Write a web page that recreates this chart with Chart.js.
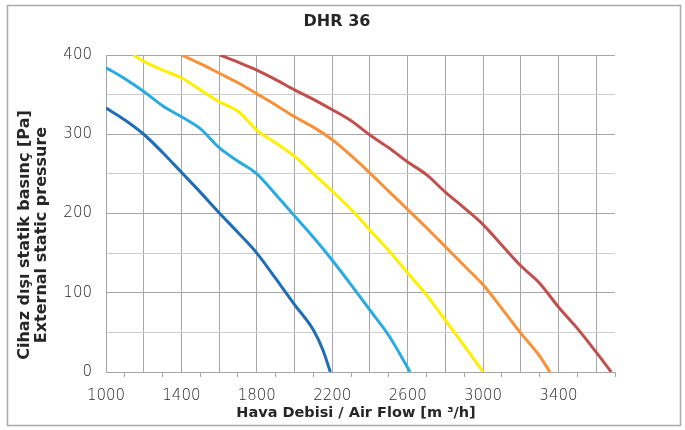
<!DOCTYPE html>
<html>
<head>
<meta charset="utf-8">
<title>DHR 36</title>
<script src="https://cdn.jsdelivr.net/npm/chart.js@4.4.1/dist/chart.umd.min.js"></script>
<style>
  html, body { margin: 0; padding: 0; background: #ffffff; }
  canvas { display: block; }
</style>
</head>
<body>
<canvas id="fanChart" width="685" height="430"></canvas>
<script>
// Fan curves: external static pressure [Pa] against air flow [m3/h]
const flow1 = [1000, 1100, 1200, 1300, 1400, 1500, 1600, 1700, 1800, 1900, 2000, 2100, 2150, 2190];
const press1 = [333, 318, 300, 277, 252, 227, 201, 176, 150, 118, 85, 53, 28, 0];

const flow2 = [1000, 1100, 1200, 1300, 1400, 1500, 1600, 1700, 1800, 1900, 2000, 2100, 2200, 2300, 2400, 2500, 2613];
const press2 = [384, 370, 354, 336, 322, 307, 283, 266, 250, 224, 197, 170, 141, 110, 78, 46, 0];

const flow3 = [1145, 1200, 1300, 1400, 1500, 1600, 1700, 1800, 1900, 2000, 2100, 2200, 2300, 2400, 2500, 2600, 2700, 2800, 2900, 3000];
const press3 = [400, 392, 381, 371, 356, 341, 329, 305, 289, 272, 250, 228, 205, 179, 153, 125, 97, 65, 33, 0];

const flow4 = [1400, 1500, 1600, 1700, 1800, 1900, 2000, 2100, 2200, 2300, 2400, 2500, 2600, 2700, 2800, 2900, 3000, 3100, 3200, 3300, 3355];
const press4 = [400, 389, 377, 365, 351, 337, 322, 309, 293, 273, 251, 228, 205, 182, 158, 134, 110, 80, 49, 20, 0];

const flow5 = [1605, 1700, 1800, 1900, 2000, 2100, 2200, 2300, 2400, 2500, 2600, 2700, 2800, 2900, 3000, 3100, 3200, 3300, 3400, 3500, 3600, 3680];
const press5 = [400, 391, 381, 369, 356, 344, 331, 317, 299, 283, 265, 249, 227, 207, 186, 160, 134, 112, 82, 55, 25, 0];

const curveColors = ['#1f6db4', '#29abe2', '#fff000', '#f7923a', '#c0504d'];

// Axis settings
const flowMin = 1000, flowMax = 3700, flowStep = 100;
const flowLabels = [1000, 1400, 1800, 2200, 2600, 3000, 3400];
const pressMin = 0, pressMax = 400, pressStep = 50;
const pressLabels = [0, 100, 200, 300, 400];

const chartTitle = 'DHR 36';
const xTitle = 'Hava Debisi / Air Flow [m \u00B3/h]';
const yTitle = ['Cihaz dışı statik basınç [Pa]', 'External static pressure'];

function toPoints(xs, ys) {
  return xs.map((x, i) => ({ x: x, y: ys[i] }));
}

const series = [[flow1, press1], [flow2, press2], [flow3, press3], [flow4, press4], [flow5, press5]];

const datasets = series.map((s, i) => ({
  data: toPoints(s[0], s[1]),
  borderColor: curveColors[i],
  backgroundColor: curveColors[i],
  borderWidth: 3,
  pointRadius: 0,
  pointHoverRadius: 0,
  cubicInterpolationMode: 'monotone',
  fill: false
}));

const gridDark = '#a6a6a6';
const gridLight = '#cdcdcd';
const tickFont = { family: 'DejaVu Sans', size: 15, weight: 300 };
const tickColor = '#262626';

// Frame and titles drawn around the plot
const decorations = {
  id: 'decorations',
  beforeDraw(chart) {
    const ctx = chart.ctx;
    ctx.save();
    ctx.fillStyle = '#ffffff';
    ctx.fillRect(0, 0, chart.width, chart.height);
    ctx.strokeStyle = '#a9a9a9';
    ctx.lineWidth = 1.5;
    ctx.strokeRect(7.5, 5.5, 673, 420);
    ctx.restore();
  },
  afterDraw(chart) {
    const ctx = chart.ctx;
    ctx.save();
    ctx.fillStyle = '#262626';
    ctx.textAlign = 'center';
    ctx.textBaseline = 'middle';
    ctx.font = 'bold 16px "DejaVu Sans"';
    ctx.fillText(chartTitle, 337, 22);
    ctx.font = 'bold 14.5px "DejaVu Sans"';
    ctx.fillText(xTitle, 356, 413);
    ctx.font = 'bold 16px "DejaVu Sans"';
    ctx.save();
    ctx.translate(25, 235);
    ctx.rotate(-Math.PI / 2);
    ctx.fillText(yTitle[0], 0, 0);
    ctx.restore();
    ctx.save();
    ctx.translate(41.5, 235);
    ctx.rotate(-Math.PI / 2);
    ctx.fillText(yTitle[1], 0, 0);
    ctx.restore();
    ctx.restore();
  }
};

new Chart(document.getElementById('fanChart'), {
  type: 'line',
  data: { datasets: datasets },
  options: {
    responsive: false,
    animation: false,
    events: [],
    layout: { padding: { top: 55, right: 70, bottom: 0, left: 0 } },
    plugins: {
      legend: { display: false },
      title: { display: false },
      tooltip: { enabled: false }
    },
    scales: {
      x: {
        type: 'linear',
        min: flowMin,
        max: flowMax,
        afterFit(scale) { scale.height = 58; },
        afterBuildTicks(scale) {
          const t = [];
          for (let v = flowMin; v <= flowMax; v += flowStep) t.push({ value: v });
          scale.ticks = t;
        },
        ticks: {
          autoSkip: false,
          maxRotation: 0,
          padding: 10,
          font: tickFont,
          color: tickColor,
          callback: (v) => flowLabels.includes(v) ? String(v) : ''
        },
        grid: {
          lineWidth: 1,
          tickLength: 5,
          color: (c) => (c.tick && (c.tick.value - flowMin) % 200 === 0) ? gridDark : 'rgba(0,0,0,0)',
          tickColor: (c) => (c.tick && (c.tick.value - flowMin) % 200 === 100) ? gridDark : 'rgba(0,0,0,0)'
        },
        border: { color: gridDark, width: 1 }
      },
      y: {
        type: 'linear',
        min: pressMin,
        max: pressMax,
        afterFit(scale) { scale.width = 106; },
        afterBuildTicks(scale) {
          const t = [];
          for (let v = pressMin; v <= pressMax; v += pressStep) t.push({ value: v });
          scale.ticks = t;
        },
        ticks: {
          autoSkip: false,
          padding: 14,
          font: tickFont,
          color: tickColor,
          callback: (v) => pressLabels.includes(v) ? String(v) : ''
        },
        grid: {
          lineWidth: 1,
          drawTicks: false,
          color: (c) => (c.tick && c.tick.value % 100 === 0) ? gridDark : gridLight
        },
        border: { color: gridDark, width: 1 }
      }
    }
  },
  plugins: [decorations]
});
</script>
</body>
</html>
